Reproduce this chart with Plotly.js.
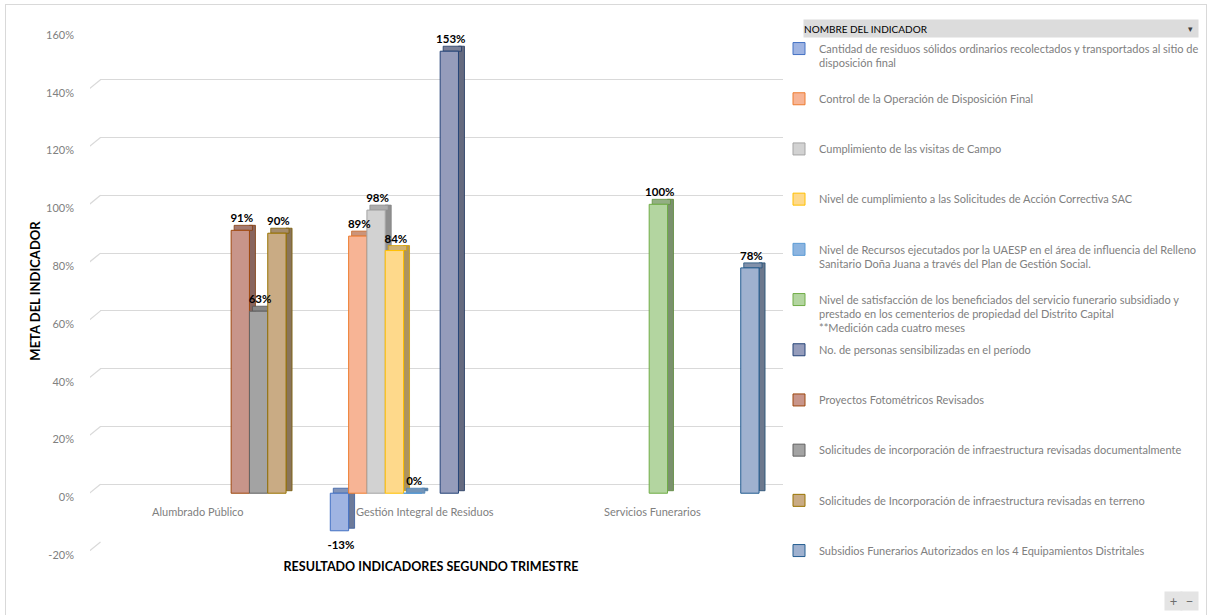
<!DOCTYPE html>
<html><head><meta charset="utf-8">
<script src="https://cdn.plot.ly/plotly-3.0.1.min.js"></script>
<style>
html,body{margin:0;padding:0;background:#fff;overflow:hidden}
#chart{width:1208px;height:615px}
#frame{position:absolute;left:5px;top:4px;width:1200px;height:660px;border:1px solid #d9d9d9;pointer-events:none}
</style></head><body>
<div id="chart"></div><div id="frame"></div>
<script>
// ---------------- DATA ----------------
const categories = ['Alumbrado Público', 'Gestión Integral de Residuos', 'Servicios Funerarios'];
const seriesNames = [
  'Cantidad de residuos sólidos ordinarios recolectados y transportados al sitio de disposición final',
  'Control de la Operación de Disposición Final',
  'Cumplimiento de las visitas de Campo',
  'Nivel de cumplimiento a las Solicitudes de Acción Correctiva SAC',
  'Nivel de Recursos ejecutados por la UAESP en el área de influencia del Relleno Sanitario Doña Juana a través del Plan de Gestión Social.',
  'Nivel de satisfacción de los beneficiados del servicio funerario subsidiado y prestado en los cementerios de propiedad del Distrito Capital **Medición cada cuatro meses',
  'No. de personas sensibilizadas en el período',
  'Proyectos Fotométricos Revisados',
  'Solicitudes de incorporación de infraestructura revisadas documentalmente',
  'Solicitudes de Incorporación de infraestructura revisadas en terreno',
  'Subsidios Funerarios Autorizados en los 4 Equipamientos Distritales'
];
const legendLabels = [
  'Cantidad de residuos sólidos ordinarios recolectados y transportados al sitio de<br>disposición final',
  'Control de la Operación de Disposición Final',
  'Cumplimiento de las visitas de Campo',
  'Nivel de cumplimiento a las Solicitudes de Acción Correctiva SAC',
  'Nivel de Recursos ejecutados por la UAESP en el área de influencia del Relleno<br>Sanitario Doña Juana a través del Plan de Gestión Social.',
  'Nivel de satisfacción de los beneficiados del servicio funerario subsidiado y<br>prestado en los cementerios de propiedad del Distrito Capital<br>**Medición cada cuatro meses',
  'No. de personas sensibilizadas en el período',
  'Proyectos Fotométricos Revisados',
  'Solicitudes de incorporación de infraestructura revisadas documentalmente',
  'Solicitudes de Incorporación de infraestructura revisadas en terreno',
  'Subsidios Funerarios Autorizados en los 4 Equipamientos Distritales'
];
const cantidadResiduos      = [null, -13, null];
const controlOperacion      = [null, 89, null];
const cumplimientoVisitas   = [null, 98, null];
const nivelSAC              = [null, 84, null];
const nivelRecursos         = [null, 0, null];
const nivelSatisfaccion     = [null, null, 100];
const personasSensibilizadas= [null, 153, null];
const proyectosFotometricos = [91, null, null];
const solicitudesDocumental = [63, null, null];
const solicitudesTerreno    = [90, null, null];
const subsidiosFunerarios   = [null, null, 78];
const seriesValues = [cantidadResiduos, controlOperacion, cumplimientoVisitas, nivelSAC, nivelRecursos,
  nivelSatisfaccion, personasSensibilizadas, proyectosFotometricos, solicitudesDocumental,
  solicitudesTerreno, subsidiosFunerarios];
const yTickVals = [-20, 0, 20, 40, 60, 80, 100, 120, 140, 160];
const yTickText = ['-20%', '0%', '20%', '40%', '60%', '80%', '100%', '120%', '140%', '160%'];

// ---------------- STYLE ----------------
const FONT = "Lato, sans-serif";
const fillColors = ['#9fb4e2', '#f7b495', '#d2d2d2', '#fed98b', '#8cb4e0', '#b3d5a0',
  '#959cbb', '#c8958a', '#a3a3a3', '#c9ab84', '#9fb1cf'];
const lineColors = ['#4472c4', '#ed7d31', '#a5a5a5', '#ffc000', '#5b9bd5', '#70ad47',
  '#264478', '#9e480e', '#636363', '#997300', '#255e91'];
function shade(hex, f) {
  const n = parseInt(hex.slice(1), 16);
  const r = Math.round(((n >> 16) & 255) * f), g = Math.round(((n >> 8) & 255) * f), b = Math.round((n & 255) * f);
  return 'rgb(' + r + ',' + g + ',' + b + ')';
}

// geometry (pixels -> units)
const W = 1208, H = 615;
const pL = 89.5, pR = 783, pT = 22.1, pB = 551.1;
const pW = pR - pL, pH = pB - pT;
const fx = px => (px - pL) / pW;
const fy = py => (pB - py) / pH;
const catPx = 227.5, yPxPerUnit = 2.889;
const bargap = 0.114, nS = seriesNames.length;
const slot = (1 - bargap) / nS;
const dx = 6 / catPx, dy = 5 / yPxPerUnit;
const xIdx = categories.map((c, i) => i);
const wallDx = 10.5 / catPx, wallDy = 9 / yPxPerUnit;

const data = [];
// grid helper subplot (x/y)
data.push({type: 'scatter', x: [null], y: [null], xaxis: 'x', yaxis: 'y', showlegend: false, hoverinfo: 'skip'});

// side-wall diagonal grid segments
const gx = [], gy = [];
yTickVals.forEach(v => {
  gx.push(-0.5 - 5.5 / catPx, -0.5 + wallDx, null);
  gy.push(v - 4 / yPxPerUnit, v + wallDy, null);
});
data.push({type: 'scatter', mode: 'lines', x: gx, y: gy, xaxis: 'x2', yaxis: 'y2', cliponaxis: false,
  showlegend: false, hoverinfo: 'skip', line: {color: '#d9d9d9', width: 1.2}});

seriesValues.forEach((vals, i) => {
  const off = -(1 - bargap) / 2 + i * slot;
  const nLines = legendLabels[i].split('<br>').length;
  let pad = '';
  for (let k = nLines; k < 3; k++) pad += '<br> ';
  // side face
  data.push({type: 'bar', x: xIdx, xaxis: 'x2', yaxis: 'y2',
    base: vals.map(v => v === null ? null : Math.min(v, 0) + dy / 2),
    y: vals.map(v => v === null ? null : Math.abs(v) + dy / 2),
    offset: off + slot, width: dx, showlegend: false, legendgroup: 'g' + i, hoverinfo: 'skip',
    marker: {color: shade(fillColors[i], 0.68), line: {color: shade(lineColors[i], 0.8), width: 0.8}}});
  // top face
  data.push({type: 'bar', x: xIdx, xaxis: 'x2', yaxis: 'y2',
    base: vals.map(v => v === null ? null : Math.max(v, 0)),
    y: vals.map(v => v === null ? null : dy),
    offset: off + dx / 2, width: slot, showlegend: false, legendgroup: 'g' + i, hoverinfo: 'skip',
    marker: {color: shade(fillColors[i], 0.82), line: {color: shade(lineColors[i], 0.85), width: 0.8}}});
  // front face
  data.push({type: 'bar', x: xIdx, y: vals, xaxis: 'x2', yaxis: 'y2',
    offset: off, width: slot, name: legendLabels[i] + pad,
    legendgroup: 'g' + i, hovertext: seriesNames[i],
    marker: {color: fillColors[i], line: {color: lineColors[i], width: 1}}});
});

// data labels
const lx = [], ly = [], lt = [], lp = [];
seriesValues.forEach((vals, i) => {
  const off = -(1 - bargap) / 2 + i * slot;
  vals.forEach((v, j) => {
    if (v === null) return;
    lx.push(j + off + slot / 2 + dx / 4);
    ly.push(v >= 0 ? v + dy : v - 2 * dy);
    lt.push('<b>' + v + '%</b>');
    lp.push(v >= 0 ? 'top center' : 'bottom center');
  });
});
data.push({type: 'scatter', mode: 'text', x: lx, y: ly, text: lt, textposition: lp,
  xaxis: 'x2', yaxis: 'y2', showlegend: false, hoverinfo: 'skip', cliponaxis: false,
  textfont: {family: FONT, size: 11.5, color: '#000000'}});

const annotations = categories.map((c, i) => ({
  xref: 'x2', yref: 'y2', x: i, y: 0, text: c, showarrow: false, xshift: -6, yshift: -18.4,
  font: {family: FONT, size: 11, color: '#808080'}
}));
annotations.push({xref: 'paper', yref: 'paper', x: fx(803), y: fy(29), xanchor: 'left', yanchor: 'middle',
  text: 'NOMBRE DEL INDICADOR', showarrow: false, align: 'left', width: 394, height: 17, borderpad: 0,
  bgcolor: '#dcdcdc', font: {family: FONT, size: 10, color: '#000000'}});
annotations.push({xref: 'paper', yref: 'paper', x: fx(1191), y: fy(29), xanchor: 'center', yanchor: 'middle',
  text: '▾', showarrow: false, font: {family: FONT, size: 9, color: '#404040'}});
annotations.push({xref: 'paper', yref: 'paper', x: fx(1174), y: fy(601), xanchor: 'center', yanchor: 'middle',
  text: '+', showarrow: false, width: 15, height: 16, bgcolor: '#e4e4e4', font: {family: FONT, size: 13, color: '#6e6e6e'}});
annotations.push({xref: 'paper', yref: 'paper', x: fx(1190), y: fy(601), xanchor: 'center', yanchor: 'middle',
  text: '−', showarrow: false, width: 15, height: 16, bgcolor: '#e4e4e4', font: {family: FONT, size: 13, color: '#6e6e6e'}});

const layout = {
  width: W, height: H,
  margin: {l: pL, r: W - pR, t: pT, b: H - pB, pad: 0, autoexpand: false},
  paper_bgcolor: '#ffffff', plot_bgcolor: 'rgba(0,0,0,0)',
  font: {family: FONT, color: '#808080'},
  barmode: 'overlay',
  showlegend: true,
  xaxis: {domain: [fx(100), fx(100 + 682.5)], range: [0, 1], anchor: 'y', visible: true,
    showgrid: false, zeroline: false, showline: false, showticklabels: false, ticks: ''},
  yaxis: {domain: [fy(551.1 - 9), 1], range: [-20, 160], anchor: 'x', tickvals: yTickVals,
    showgrid: true, gridcolor: '#d9d9d9', gridwidth: 1.2, zeroline: false, showline: false, showticklabels: false, ticks: ''},
  xaxis2: {domain: [0, fx(pL + 682.5)], range: [-0.5, 2.5], anchor: 'y2',
    showgrid: false, zeroline: false, showline: false, showticklabels: false, ticks: '',
    title: {text: '<b>RESULTADO INDICADORES SEGUNDO TRIMESTRE</b>', standoff: 11,
      font: {family: FONT, size: 12.5, color: '#000000'}}},
  yaxis2: {domain: [0, fy(31.1)], range: [-20, 160], anchor: 'x2',
    tickvals: yTickVals, ticktext: yTickText, showgrid: false, zeroline: false, showline: false,
    ticks: '', ticklabelstandoff: 15, ticklabelshift: 4,
    tickfont: {family: FONT, size: 11, color: '#808080'},
    title: {text: '<b>META DEL INDICADOR</b>', standoff: 2, font: {family: FONT, size: 13, color: '#000000'}}},
  legend: {x: fx(779), y: fy(35), xanchor: 'left', yanchor: 'top', valign: 'top',
    bgcolor: 'rgba(0,0,0,0)', tracegroupgap: 4.3, traceorder: 'grouped',
    font: {family: FONT, size: 11, color: '#808080'}},
  annotations: annotations
};

Plotly.newPlot('chart', data, layout, {displayModeBar: false, staticPlot: true});
</script>
</body></html>
